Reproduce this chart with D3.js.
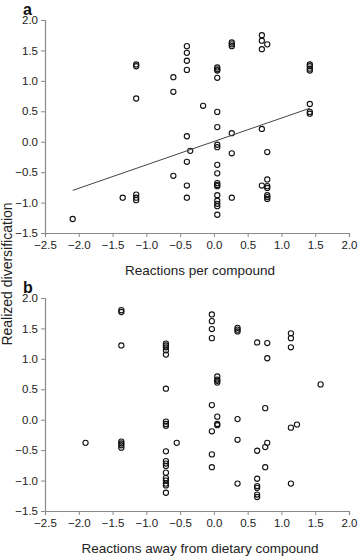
<!DOCTYPE html>
<html>
<head>
<meta charset="utf-8">
<script src="https://cdnjs.cloudflare.com/ajax/libs/d3/7.8.5/d3.min.js"></script>
<style>
  body { margin: 0; background: #fff; }
  svg { display: block; font-family: "Liberation Sans", Arial, sans-serif; }
  .axis path, .axis line { stroke: #8a8a8a; }
  .axis text { fill: #222; font-size: 11.5px; }
</style>
</head>
<body>
<div id="graph"></div>
<script>
// panel a : reactions per compound
const aX = [-2.09, -1.35,
  -1.15, -1.15, -1.15, -1.15, -1.15, -1.15,
  -0.60, -0.60, -0.60,
  -0.40, -0.40, -0.40, -0.40, -0.40, -0.40, -0.40, -0.40,
  -0.35, -0.16,
  0.05, 0.05, 0.05, 0.05, 0.05, 0.05, 0.05, 0.05, 0.05, 0.05, 0.05, 0.05, 0.05, 0.05, 0.05, 0.05, 0.05, 0.05,
  0.265, 0.265, 0.265, 0.265, 0.265, 0.265,
  0.71, 0.71, 0.71, 0.71, 0.71,
  0.79, 0.79, 0.79, 0.79, 0.79, 0.79, 0.79, 0.79,
  1.42, 1.42, 1.42, 1.42, 1.42, 1.42, 1.42];
const aY = [-1.27, -0.92,
  1.27, 1.24, 0.71, -0.87, -0.92, -0.96,
  1.06, 0.82, -0.56,
  1.57, 1.46, 1.33, 1.18, 0.09, -0.33, -0.72, -0.92,
  -0.15, 0.59,
  1.22, 1.19, 1.17, 1.05, 0.49, 0.24, -0.05, -0.09, -0.38, -0.52, -0.68, -0.71, -0.73, -0.88, -0.97, -1.02, -1.06, -1.20,
  1.63, 1.60, 1.57, 0.14, -0.19, -0.92,
  1.75, 1.66, 1.52, 0.21, -0.72,
  1.60, -0.17, -0.62, -0.73, -0.76, -0.88, -0.91, -0.94,
  1.27, 1.24, 1.20, 1.17, 0.62, 0.49, 0.46];
// fitted regression line for panel a
const fitX = [-2.09, 1.42];
const fitY = [-0.80, 0.55];

// panel b : reactions away from dietary compound
const bX = [-1.90,
  -1.37, -1.37, -1.37, -1.37, -1.37, -1.37, -1.37,
  -0.71, -0.71, -0.71, -0.71, -0.71, -0.71, -0.71, -0.71, -0.71, -0.71, -0.71, -0.71, -0.71, -0.71, -0.71, -0.71, -0.71, -0.71, -0.71,
  -0.55,
  -0.03, -0.03, -0.03, -0.03, -0.03, -0.03, -0.03, -0.03,
  0.05, 0.05, 0.05, 0.05, 0.05, 0.05, 0.05,
  0.35, 0.35, 0.35, 0.35, 0.35, 0.35,
  0.64, 0.64, 0.64, 0.64, 0.64, 0.64, 0.64,
  0.76, 0.76, 0.76,
  0.79, 0.79, 0.79,
  1.14, 1.14, 1.14, 1.14, 1.14,
  1.23, 1.58];
const bY = [-0.38,
  1.80, 1.77, 1.22, -0.36, -0.39, -0.42, -0.46,
  1.25, 1.22, 1.19, 1.14, 1.07, 0.51, -0.03, -0.07, -0.10, -0.52, -0.68, -0.72, -0.76, -0.87, -0.96, -1.00, -1.05, -1.08, -1.20,
  -0.38,
  1.73, 1.62, 1.49, 1.34, 0.24, -0.19, -0.57, -0.78,
  0.71, 0.66, 0.64, 0.61, 0.05, -0.07, -0.09,
  1.51, 1.48, 1.45, 0.01, -0.33, -1.05,
  1.27, -0.51, -0.97, -1.09, -1.12, -1.23, -1.27,
  0.19, -0.45, -0.78,
  1.26, 1.01, -0.38,
  1.42, 1.34, 1.19, -0.13, -1.05,
  -0.08, 0.58];

const xTicks = [-2.5, -2.0, -1.5, -1.0, -0.5, 0.0, 0.5, 1.0, 1.5, 2.0];
const yTicks = [-1.5, -1.0, -0.5, 0.0, 0.5, 1.0, 1.5, 2.0];
const yTitle = "Realized diversification";

const width = 358, height = 557;
const left = 45, right = 349;

let svg = d3.select("div#graph")
  .append("svg")
  .attr("width", width)
  .attr("height", height);

function drawPanel(letter, xs, ys, top, bottom, xTitle) {
  let xScale = d3.scaleLinear().domain([-2.5, 2.0]).range([left, right]);
  let yScale = d3.scaleLinear().domain([-1.5, 2.0]).range([bottom, top]);

  let xAxis = d3.axisBottom(xScale)
    .tickValues(xTicks)
    .tickFormat(d3.format(".1f"))
    .tickSizeOuter(0)
    .tickSize(4)
    .tickPadding(4);
  let yAxis = d3.axisLeft(yScale)
    .tickValues(yTicks)
    .tickFormat(d3.format(".1f"))
    .tickSizeOuter(0)
    .tickSize(4)
    .tickPadding(3);

  svg.append("g")
    .attr("class", "x axis")
    .attr("transform", `translate(0, ${bottom})`)
    .call(xAxis);
  svg.append("g")
    .attr("class", "y axis")
    .attr("transform", `translate(${left}, 0)`)
    .call(yAxis);
  svg.selectAll(".axis .domain").attr("stroke-width", 1.2);

  svg.append("text")
    .attr("x", (left + right) / 2 + 3)
    .attr("y", bottom + 42)
    .attr("text-anchor", "middle")
    .attr("font-size", "13.5px")
    .attr("fill", "#222")
    .text(xTitle);

  svg.append("text")
    .attr("x", 23)
    .attr("y", top - 5)
    .attr("font-size", "16px")
    .attr("font-weight", "bold")
    .attr("fill", "#111")
    .text(letter);

  let pts = xs.map((x, i) => ({x: x, y: ys[i]}));
  svg.append("g")
    .selectAll("circle")
    .data(pts)
    .enter()
    .append("circle")
    .attr("cx", d => xScale(d.x))
    .attr("cy", d => yScale(d.y))
    .attr("r", 2.6)
    .attr("fill", "none")
    .attr("stroke", "#111")
    .attr("stroke-width", 1.1);

  return {xScale, yScale};
}

let pa = drawPanel("a", aX, aY, 20, 233, "Reactions per compound");
drawPanel("b", bX, bY, 298, 511, "Reactions away from dietary compound");

svg.append("line")
  .attr("x1", pa.xScale(fitX[0]))
  .attr("x2", pa.xScale(fitX[1]))
  .attr("y1", pa.yScale(fitY[0]))
  .attr("y2", pa.yScale(fitY[1]))
  .attr("stroke", "#444")
  .attr("stroke-width", 1);

svg.append("text")
  .attr("transform", "translate(12, 274) rotate(-90)")
  .attr("text-anchor", "middle")
  .attr("font-size", "14px")
  .attr("fill", "#222")
  .text(yTitle);
</script>
</body>
</html>
